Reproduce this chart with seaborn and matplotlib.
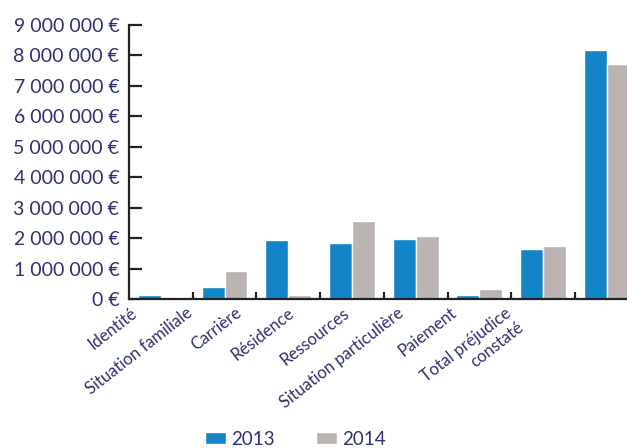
import pandas as pd
import numpy as np
import matplotlib
matplotlib.use("Agg")
import matplotlib.pyplot as plt
from matplotlib.ticker import FuncFormatter
from matplotlib.patches import Patch
import seaborn as sns

# Data
categories = ['Identité', 'Situation familiale', 'Carrière', 'Résidence', 'Ressources',
              'Situation particulière', 'Paiement', 'Total préjudice\nconstaté']
years = ['2013', '2014']
val_2013 = [130000, 400000, 1950000, 1840000, 1970000, 130000, 1640000, 8180000]
val_2014 = [70000, 920000, 130000, 2560000, 2070000, 330000, 1740000, 7720000]
y_ticks = [0, 1000000, 2000000, 3000000, 4000000, 5000000, 6000000, 7000000, 8000000, 9000000]

df = pd.DataFrame({
    'cat': categories * 2,
    'year': ['2013'] * len(categories) + ['2014'] * len(categories),
    'val': val_2013 + val_2014,
})

blue = '#1384c8'
grey = '#bbb3b2'
navy = '#2e3172'
dark = '#222222'

sns.set_style('white')
plt.rcParams['font.family'] = ['Lato', 'DejaVu Sans']

fig = plt.figure(figsize=(6.27, 4.48), dpi=100)
ax = fig.add_axes([129 / 627, 1 - 299 / 448, 1 - 129 / 627, (299 - 25) / 448])

sns.barplot(data=df, x='cat', y='val', hue='year', palette=[blue, grey],
            width=0.72, saturation=1, ax=ax, legend=False)

ax.set_ylim(0, 9000000)
ax.set_xlim(-0.5, -0.5 + 498 / 63.7)
ax.set_yticks(y_ticks)
ax.yaxis.set_major_formatter(FuncFormatter(lambda v, p: f"{int(v):,}".replace(',', ' ') + ' €'))
ax.tick_params(axis='y', direction='in', length=9.5, width=1.6, color=dark,
               labelsize=14, labelcolor=navy, pad=7, left=True)

# boundary ticks on the category axis, labels placed separately as minor ticks
ax.set_xticks(np.arange(0.5, 7, 1.0))
ax.set_xticklabels([])
ax.tick_params(axis='x', which='major', direction='in', length=5, width=1.6, color=dark, bottom=True)
label_x = [-0.49, 0.39, 1.16, 1.99, 2.85, 3.70, 4.53, 5.40]
ax.set_xticks(label_x, minor=True)
ax.set_xticklabels(categories, minor=True, rotation=38, ha='right', va='top',
                   rotation_mode='anchor', color=navy, fontsize=12)
ax.tick_params(axis='x', which='minor', length=0, pad=4)
ax.set_xlabel('')
ax.set_ylabel('')

for s in ['top', 'right']:
    ax.spines[s].set_visible(False)
ax.spines['left'].set_color(dark)
ax.spines['left'].set_linewidth(1.6)
ax.spines['bottom'].set_color(dark)
ax.spines['bottom'].set_linewidth(1.6)

handles = [Patch(facecolor=blue, label='2013'), Patch(facecolor=grey, label='2014')]
fig.legend(handles=handles, loc='center', bbox_to_anchor=(295 / 627, 1 - 439 / 448), ncol=2,
           frameon=False, fontsize=13.5, handlelength=1.15, handleheight=0.65,
           columnspacing=2.2, handletextpad=0.25, labelcolor=navy)

fig.savefig('out.png', dpi=100)
